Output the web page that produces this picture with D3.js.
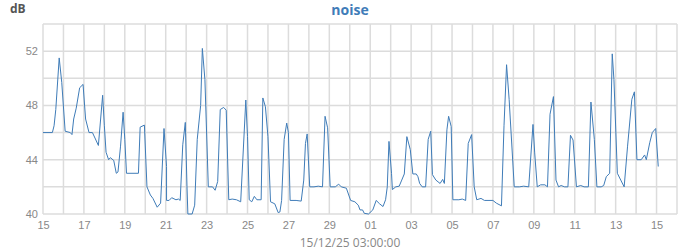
<!DOCTYPE html>
<html>
<head>
<meta charset="utf-8">
<title>noise</title>
<style>
  body { margin: 0; background: #fff; font-family: 'Open Sans', sans-serif; }
  .grid line { stroke: #dcdcdc; stroke-width: 1.5; }
  .tick text { fill: #888; font-size: 11px; }
</style>
</head>
<body>
<div id="chart"></div>
<script src="https://cdn.jsdelivr.net/npm/d3@7"></script>
<script>

var width = 700,
    height = 250,
    margin = {top: 24, right: 23, bottom: 36, left: 43};

var startDate = new Date(2025, 10, 15),
    endDate = new Date(2025, 11, 16);

// time in days since 15 Nov 00:00, noise in dB
var dayOffsets = [
  0, 0.46, 0.56, 0.65, 0.82, 0.95, 1.11, 1.34, 1.44, 1.53, 1.66, 1.83, 1.96, 2.09, 2.25, 2.45, 2.58, 2.71, 2.94,
  3.03, 3.1, 3.23, 3.33, 3.46, 3.59, 3.69, 3.82, 3.95, 4.04, 4.11, 4.69, 4.79, 4.96, 5.09, 5.25, 5.41, 5.61, 5.76,
  5.95, 6.05, 6.08, 6.2, 6.33, 6.5, 6.63, 6.72, 6.85, 6.96, 7.06, 7.12, 7.3, 7.43, 7.58, 7.74, 7.82, 7.95, 8.12,
  8.31, 8.45, 8.58, 8.68, 8.84, 8.97, 9.1, 9.26, 9.46, 9.68, 9.94, 10.04, 10.11, 10.23, 10.34, 10.47, 10.67, 10.79,
  10.89, 11.0, 11.15, 11.35, 11.5, 11.6, 11.7, 11.8, 11.93, 12.0, 12.1, 12.38, 12.65, 12.75, 12.85, 12.94, 13.07,
  13.26, 13.46, 13.69, 13.82, 13.95, 14.05, 14.32, 14.47, 14.6, 14.84, 15.06, 15.26, 15.42, 15.52, 15.64, 15.74,
  15.94, 16.13, 16.3, 16.46, 16.63, 16.79, 16.86, 16.95, 17.05, 17.11, 17.28, 17.44, 17.57, 17.7, 17.83, 17.96,
  18.09, 18.25, 18.36, 18.45, 18.58, 18.71, 18.85, 18.97, 19.07, 19.24, 19.43, 19.56, 19.66, 19.76, 19.85, 19.98,
  20.08, 20.34, 20.54, 20.67, 20.8, 20.96, 21.1, 21.22, 21.45, 21.61, 22.0, 22.2, 22.43, 22.56, 22.69, 22.82, 23.08,
  23.31, 23.54, 23.76, 23.96, 24.06, 24.19, 24.35, 24.55, 24.68, 24.81, 24.97, 25.1, 25.23, 25.36, 25.5, 25.69,
  25.81, 25.94, 26.11, 26.3, 26.46, 26.69, 26.83, 26.96, 27.09, 27.33, 27.45, 27.58, 27.74, 27.84, 27.94, 28.1,
  28.26, 28.43, 28.62, 28.81, 28.94, 29.07, 29.27, 29.43, 29.53, 29.67, 29.8, 29.96, 30.09
];

var noiseDb = [
  46, 46, 46.5, 47.7, 51.5, 49.7, 46.1, 46, 45.85, 47, 47.8, 49.3, 49.55, 47, 46, 46, 45.6, 45.05, 48.75,
  46.5, 44.55, 44, 44.15, 43.95, 43, 43.1, 45, 47.5, 45.5, 43, 43, 46.4, 46.55, 42, 41.4, 41.15, 40.5, 40.8,
  46.3, 43.5, 41, 41, 41.2, 41.05, 41.1, 41, 45.1, 46.75, 42, 40, 40, 40.65, 45.5, 48, 52.2, 49.9, 42,
  42, 41.75, 42.4, 47.7, 47.85, 47.65, 41.05, 41.1, 41.05, 40.9, 48.4, 45.7, 41.05, 40.9, 41.3, 41.05, 41.05, 48.55,
  47.9, 45.7, 40.9, 40.75, 40.1, 40.15, 41, 45.5, 46.7, 46, 41, 41, 40.95, 42.5, 45.2, 45.9, 42,
  42, 42.05, 42, 47.2, 46.35, 42, 42, 42.2, 42, 41.9, 41, 40.9, 40.65, 40.3, 40.3, 40.05,
  40, 40.3, 41, 40.75, 40.55, 41.05, 42, 45.35, 43, 41.8, 42, 42.05, 42.5, 42.95, 45.7, 44.75,
  42.95, 42.95, 42.75, 42.25, 42, 42, 45.5, 46.1, 42.9, 42.5, 42.25, 42.55, 42.25, 46.2, 47.2, 46.45,
  41.05, 41.05, 41.1, 41, 45.2, 45.85, 42, 41.05, 41.15, 41, 41, 40.8, 40.6, 46.5, 51, 48.45, 42,
  42, 42.05, 42, 46.6, 44.5, 42, 42.15, 42.15, 42, 47.35, 48.65, 42.5, 42, 42.1, 42, 42,
  45.8, 45.45, 42, 42.1, 42, 42, 48.25, 45.5, 42, 42, 42.1, 42.75, 43, 51.8, 49.9, 43,
  42.5, 42, 45, 48.45, 49, 44, 44, 44.35, 44, 45.25, 46, 46.3, 43.5
];

var yLabelTicks = [40, 44, 48, 52];
var yGridTicks = [40, 42, 44, 46, 48, 50, 52, 54];

var data = dayOffsets.map(function(d, i) {
    return {date: d3.timeHour.offset(startDate, Math.round(d * 24 * 60) / 60), value: noiseDb[i]};
});

var x = d3.scaleTime()
    .domain([startDate, endDate])
    .range([margin.left, width - margin.right]);

var y = d3.scaleLinear()
    .domain([40, 54])
    .range([height - margin.bottom, margin.top]);

var svg = d3.select("#chart").append("svg")
    .attr("width", width)
    .attr("height", height);

// grid
svg.append("g")
    .attr("class", "grid")
    .selectAll("line")
    .data(d3.timeDay.range(startDate, d3.timeDay.offset(endDate, 1)))
    .enter().append("line")
    .attr("x1", function(d) { return x(d); })
    .attr("x2", function(d) { return x(d); })
    .attr("y1", margin.top)
    .attr("y2", height - margin.bottom);

svg.append("g")
    .attr("class", "grid")
    .selectAll("line")
    .data(yGridTicks)
    .enter().append("line")
    .attr("x1", margin.left)
    .attr("x2", width - margin.right)
    .attr("y1", function(d) { return y(d); })
    .attr("y2", function(d) { return y(d); });

// axes
var xAxis = d3.axisBottom(x)
    .ticks(d3.timeDay.every(2))
    .tickFormat(d3.timeFormat("%d"))
    .tickSize(0)
    .tickPadding(7);

svg.append("g")
    .attr("transform", "translate(0," + (height - margin.bottom) + ")")
    .call(xAxis)
    .call(function(g) { g.select(".domain").remove(); });

var yAxis = d3.axisLeft(y)
    .tickValues(yLabelTicks)
    .tickSize(0)
    .tickPadding(5);

svg.append("g")
    .attr("transform", "translate(" + margin.left + ",0)")
    .call(yAxis)
    .call(function(g) { g.select(".domain").remove(); });

// line
var line = d3.line()
    .x(function(d) { return x(d.date); })
    .y(function(d) { return y(d.value); });

svg.append("path")
    .datum(data)
    .attr("fill", "none")
    .attr("stroke", "#3f7cb8")
    .attr("stroke-width", 1)
    .attr("d", line);

// texts
svg.append("text")
    .attr("x", width / 2)
    .attr("y", 15)
    .attr("text-anchor", "middle")
    .attr("fill", "#3f7cb8")
    .attr("font-size", "14px")
    .attr("font-weight", "bold")
    .text("noise");

svg.append("text")
    .attr("x", 10)
    .attr("y", 13)
    .attr("fill", "#555")
    .attr("font-size", "12px")
    .attr("font-weight", "bold")
    .text("dB");

svg.append("text")
    .attr("x", width / 2)
    .attr("y", 247)
    .attr("text-anchor", "middle")
    .attr("fill", "#888")
    .attr("font-size", "12px")
    .text("15/12/25 03:00:00");

</script>
</body>
</html>
